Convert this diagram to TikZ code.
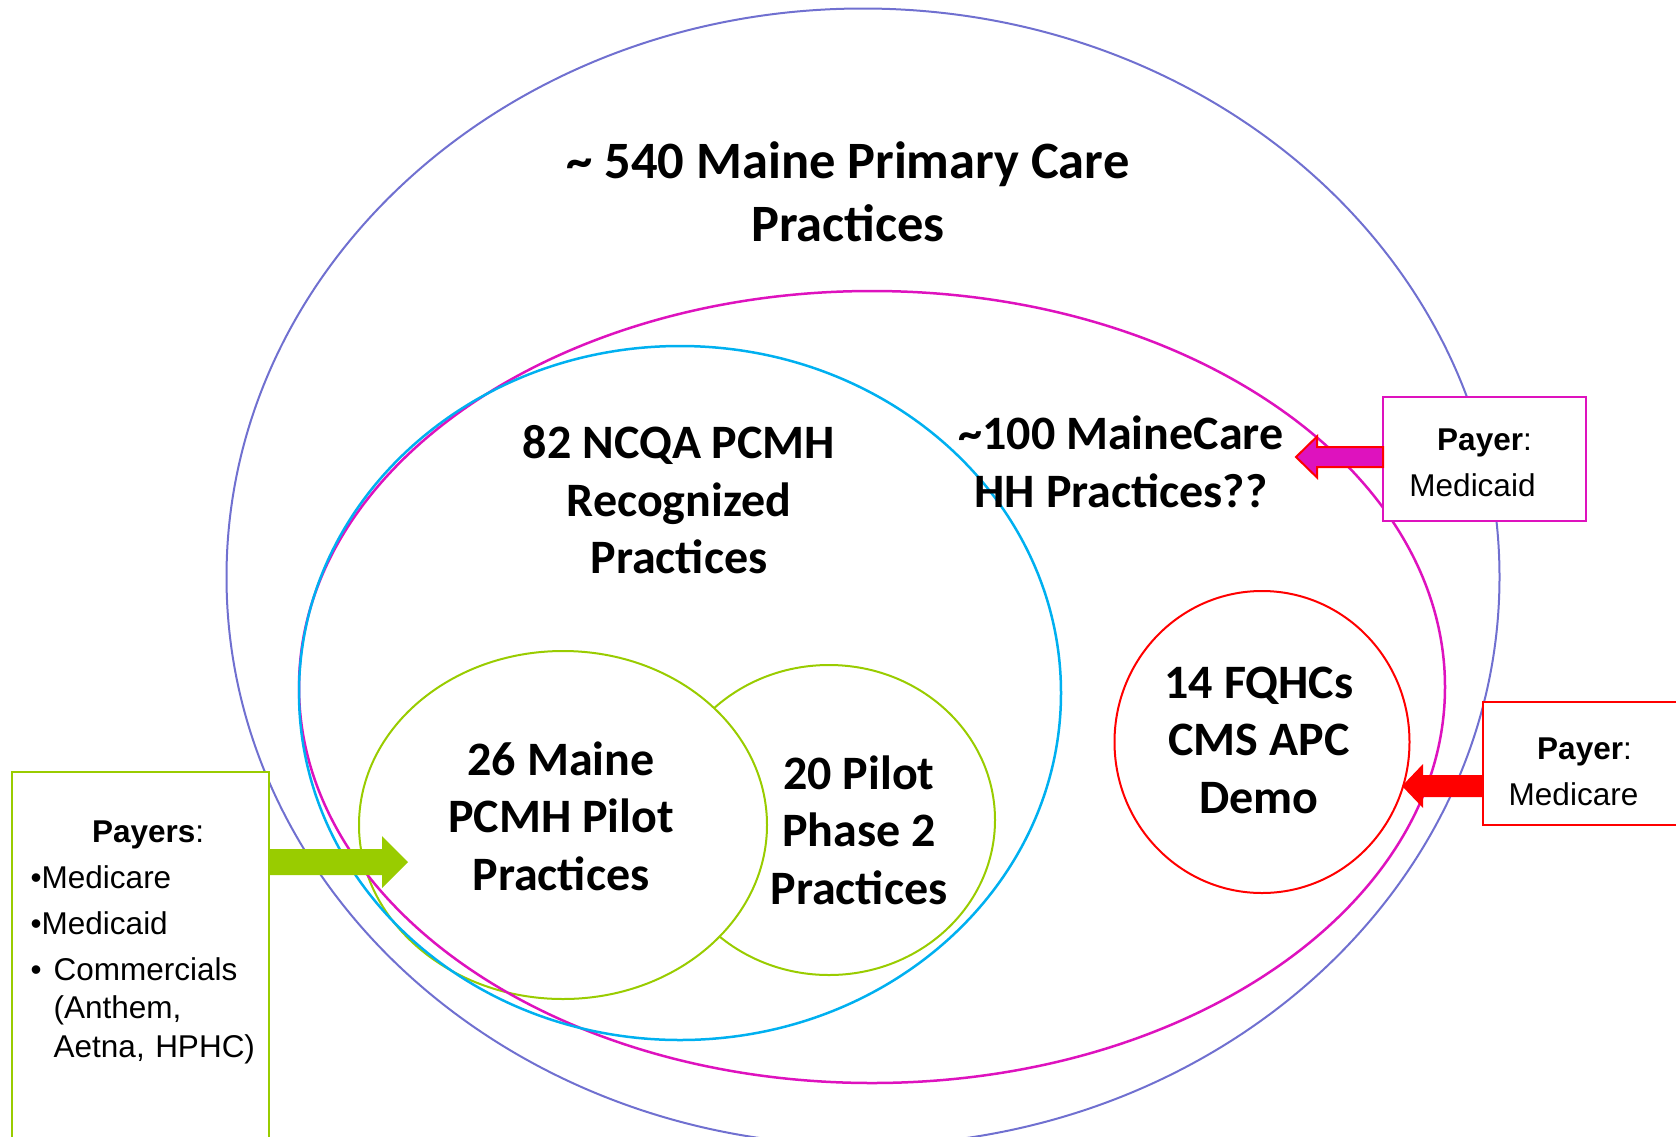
\documentclass[tikz,border=0pt]{standalone}
\usepackage{fontspec}
\setmainfont{Carlito}
\newfontfamily\arialfont{Liberation Sans}
\usetikzlibrary{shapes.geometric,calc}

\definecolor{setblue}{RGB}{112,112,208}
\definecolor{setmagenta}{RGB}{222,18,190}
\definecolor{setcyan}{RGB}{0,176,240}
\definecolor{setgreen}{RGB}{153,204,0}
\definecolor{setred}{RGB}{255,0,0}

\begin{document}
\begin{tikzpicture}[x=1pt,y=-1pt,
	set/.style={ellipse,draw,inner sep=0pt,outer sep=0pt},
	setlabel/.style={align=center,inner sep=0pt,font=\fontsize{48}{57.5}\selectfont\bfseries},
	paybox/.style={rectangle,draw,line width=2.5pt,fill=white,inner sep=0pt,outer sep=0pt,
		font=\arialfont\fontsize{31.5}{46}\selectfont}]

\useasboundingbox (0,0) rectangle (1676,1136);

% sets, biggest first
\node[set,draw=setblue,line width=2pt,minimum width=1273,minimum height=1137] (primary) at (863,577) {};
\node[set,draw=setgreen,line width=2pt,minimum width=332,minimum height=310] (phase2) at (829,820) {};
\node[set,draw=setgreen,line width=2pt,fill=white,minimum width=408,minimum height=348] (pilot) at (563,825) {};
\node[set,draw=setmagenta,line width=2.5pt,minimum width=1146,minimum height=792] (mainecare) at (872,687) {};
\node[set,draw=setcyan,line width=2.5pt,minimum width=762,minimum height=694] (ncqa) at (680,693) {};
\node[set,draw=setred,line width=2pt,minimum width=295,minimum height=302] (fqhc) at (1262,742) {};

% labels
\node[setlabel,font=\fontsize{52.5}{63}\selectfont\bfseries] (primarytext) at (848,192) {\textasciitilde{} 540 Maine Primary Care\\Practices};
\node[setlabel] (ncqatext) at (679,500) {82 NCQA PCMH\\Recognized\\Practices};
\node[setlabel] (mainecaretext) at (1121,462) {\textasciitilde100 MaineCare\\HH Practices??};
\node[setlabel] (pilottext) at (561,816) {26 Maine\\PCMH Pilot\\Practices};
\node[setlabel] (phase2text) at (859,830) {20 Pilot\\Phase 2\\Practices};
\node[setlabel] (fqhctext) at (1259,740) {14 FQHCs\\CMS APC\\Demo};

% payer boxes
\node[paybox,draw=setmagenta,minimum width=203,minimum height=124,align=center] (medicaid) at (1484.5,459) {\rule{0pt}{29pt}\textbf{Payer}:\\Medicaid\hspace*{24pt}};
\node[paybox,draw=setred,minimum width=203,minimum height=123,align=center] (medicare) at (1584.5,763.5) {\rule{0pt}{39pt}\textbf{Payer}:\\Medicare\hspace*{22pt}};
\node[paybox,draw=setgreen,minimum width=257,minimum height=420,anchor=north west] (payers) at (12,772) {};
\node[font=\arialfont\fontsize{31.5}{46}\selectfont,text width=235pt,align=left,inner sep=0pt,anchor=north west]
	(payerslist) at ($(payers.north west)+(18.5,48.5)$) {\centerline{\textbf{Payers}:}
	•Medicare\\
	•Medicaid\\
	•\hspace{12pt}Commercials\\[-7.5pt]
	\hspace*{23pt}(Anthem,\\[-7.5pt]
	\hspace*{23pt}Aetna, HPHC)};

% block arrows from the payers
\coordinate (hhtip) at (1296,457);
\coordinate (cmstip) at (1402,786);
\coordinate (pilottip) at (408,862);

\draw[fill=setmagenta,draw=setred,line width=2pt] (hhtip) -- ++(21,-20.5) -- ++(0,10.5)
	-- ($(medicaid.west |- hhtip)+(0,-10)$) -- ++(0,20) -- ($(hhtip)+(21,10)$) -- ++(0,10.5) -- cycle;
\fill[setred] (cmstip) -- ++(21,-22) -- ++(0,11)
	-- ($(medicare.west |- cmstip)+(0,-11)$) -- ++(0,22) -- ($(cmstip)+(21,11)$) -- ++(0,11) -- cycle;
\fill[setgreen] (pilottip) -- ++(-26,-26) -- ++(0,13)
	-- ($(payers.east |- pilottip)+(0,-13)$) -- ++(0,26) -- ($(pilottip)+(-26,13)$) -- ++(0,13) -- cycle;
\end{tikzpicture}
\end{document}
